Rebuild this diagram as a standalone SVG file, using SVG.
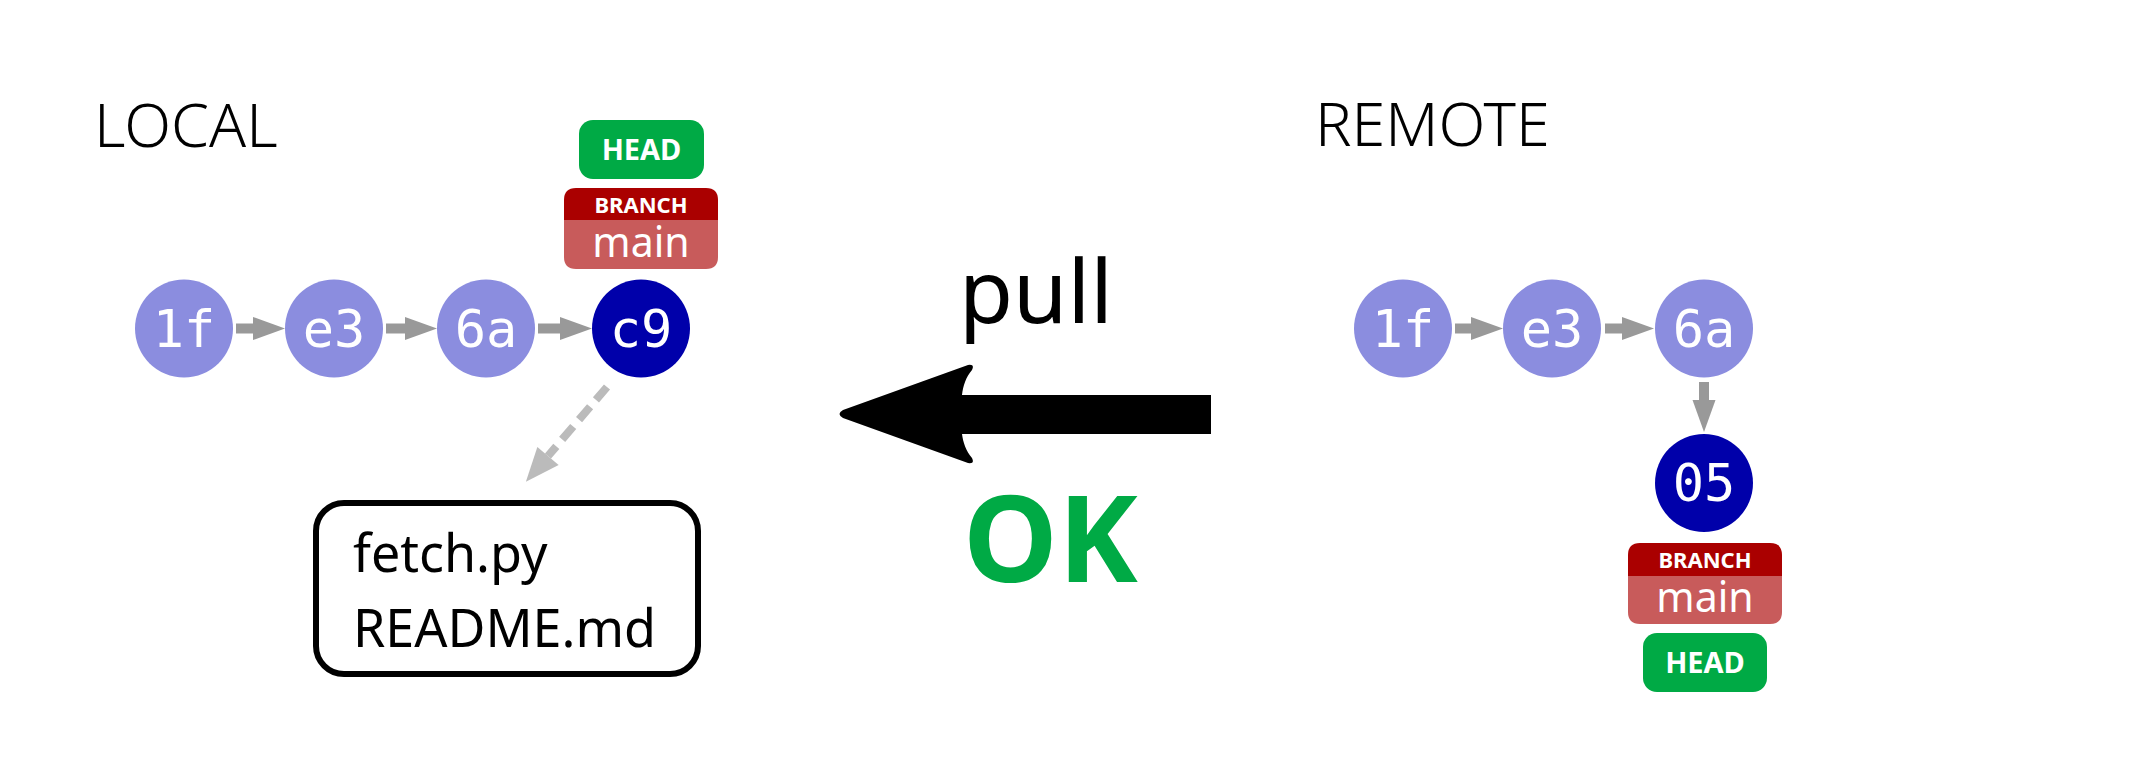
<svg xmlns="http://www.w3.org/2000/svg" width="2133" height="777" viewBox="0 0 2133 777">
<style>
.title{font-family:"Noto Sans","Lato",sans-serif;font-weight:300;font-size:61px;fill:#000}
.commit-light{fill:#8b8ddf}
.commit-dark{fill:#0000aa}
.hash{font-family:"DejaVu Sans Mono",monospace;font-size:52px;fill:#fff;text-anchor:middle}
.head-box{fill:#00aa45}
.head-txt{font-family:"Noto Sans",sans-serif;font-weight:bold;font-size:29px;fill:#fff;text-anchor:middle}
.br-top{fill:#aa0000}
.br-bot{fill:#c85b5b}
.br-txt{font-family:"Noto Sans",sans-serif;font-weight:bold;font-size:22px;fill:#fff;text-anchor:middle}
.main-txt{font-family:"Noto Sans",sans-serif;font-size:41px;fill:#fff;text-anchor:middle}
.edge{stroke:#999;stroke-width:10;fill:none}
.files{font-family:"Noto Sans",sans-serif;font-size:52px;fill:#000}
</style>
<defs>
<marker id="ah" markerUnits="userSpaceOnUse" markerWidth="34" markerHeight="26" refX="0" refY="12" orient="auto" overflow="visible">
<path d="M0,0.5 L32,12 L0,23.5 Z" fill="#999"/>
</marker>
<marker id="ahd" markerUnits="userSpaceOnUse" markerWidth="36" markerHeight="30" refX="0" refY="14" orient="auto" overflow="visible">
<path d="M0,0 L34,14 L0,28 Z" fill="#bbb"/>
</marker>
</defs>

<text class="title" x="94" y="147">LOCAL</text>
<text class="title" x="1315" y="146">REMOTE</text>

<g id="connectors">
<line class="edge" x1="236" y1="328.5" x2="253" y2="328.5" marker-end="url(#ah)"/>
<line class="edge" x1="386" y1="328.5" x2="405" y2="328.5" marker-end="url(#ah)"/>
<line class="edge" x1="538" y1="328.5" x2="560" y2="328.5" marker-end="url(#ah)"/>
<line x1="607" y1="387" x2="548" y2="456" stroke="#bbb" stroke-width="8" stroke-dasharray="17 9" marker-end="url(#ahd)"/>
<line class="edge" x1="1455" y1="328.5" x2="1471" y2="328.5" marker-end="url(#ah)"/>
<line class="edge" x1="1605" y1="328.5" x2="1622" y2="328.5" marker-end="url(#ah)"/>
<line class="edge" x1="1704" y1="382" x2="1704" y2="400" marker-end="url(#ah)"/>
</g>

<g id="local-1f"><circle class="commit-light" cx="184" cy="328.5" r="49"/><text class="hash" x="184" y="347">1f</text></g>
<g id="local-e3"><circle class="commit-light" cx="334" cy="328.5" r="49"/><text class="hash" x="334" y="347">e3</text></g>
<g id="local-6a"><circle class="commit-light" cx="486" cy="328.5" r="49"/><text class="hash" x="486" y="347">6a</text></g>
<g id="local-c9"><circle class="commit-dark" cx="641" cy="328.5" r="49"/><text class="hash" x="641" y="347">c9</text></g>

<g id="local-head"><rect class="head-box" x="579" y="120" width="125" height="59" rx="14"/><text class="head-txt" x="641.5" y="160">HEAD</text></g>
<g id="local-branch">
<path class="br-bot" d="M564,220 H718 V257 Q718,269 706,269 H576 Q564,269 564,257 Z"/>
<path class="br-top" d="M564,220 V200 Q564,188 576,188 H706 Q718,188 718,200 V220 Z"/>
<text class="br-txt" x="641" y="213">BRANCH</text>
<text class="main-txt" x="641" y="257">main</text>
</g>

<g id="files">
<rect x="316" y="503" width="382" height="171" rx="28" fill="#fff" stroke="#000" stroke-width="6"/>
<text class="files" x="353" y="572">fetch.py</text>
<text class="files" x="353" y="647">README.md</text>
</g>

<g id="pull">
<text x="959" y="323" font-family="Noto Sans, sans-serif" font-size="88" fill="#000">pull</text>
<path d="M1211,395 H962 C963,386 966,377 972,370 Q975,364 968,365 L843,410 Q836,414 843,418 L968,463 Q975,464 972,458 C966,451 963,442 962,434 H1211 Z" fill="#000"/>
<text x="963" y="582" font-family="Noto Sans, sans-serif" font-weight="bold" font-size="120" fill="#00aa45">OK</text>
</g>

<g id="remote-1f"><circle class="commit-light" cx="1403" cy="328.5" r="49"/><text class="hash" x="1403" y="347">1f</text></g>
<g id="remote-e3"><circle class="commit-light" cx="1552" cy="328.5" r="49"/><text class="hash" x="1552" y="347">e3</text></g>
<g id="remote-6a"><circle class="commit-light" cx="1704" cy="328.5" r="49"/><text class="hash" x="1704" y="347">6a</text></g>
<g id="remote-05"><circle class="commit-dark" cx="1704" cy="483" r="49"/><text class="hash" x="1704" y="501">05</text></g>

<g id="remote-branch">
<path class="br-bot" d="M1628,576 H1782 V612 Q1782,624 1770,624 H1640 Q1628,624 1628,612 Z"/>
<path class="br-top" d="M1628,576 V555 Q1628,543 1640,543 H1770 Q1782,543 1782,555 V576 Z"/>
<text class="br-txt" x="1705" y="568">BRANCH</text>
<text class="main-txt" x="1705" y="612">main</text>
</g>
<g id="remote-head"><rect class="head-box" x="1643" y="633" width="124" height="59" rx="14"/><text class="head-txt" x="1705" y="673">HEAD</text></g>
</svg>
